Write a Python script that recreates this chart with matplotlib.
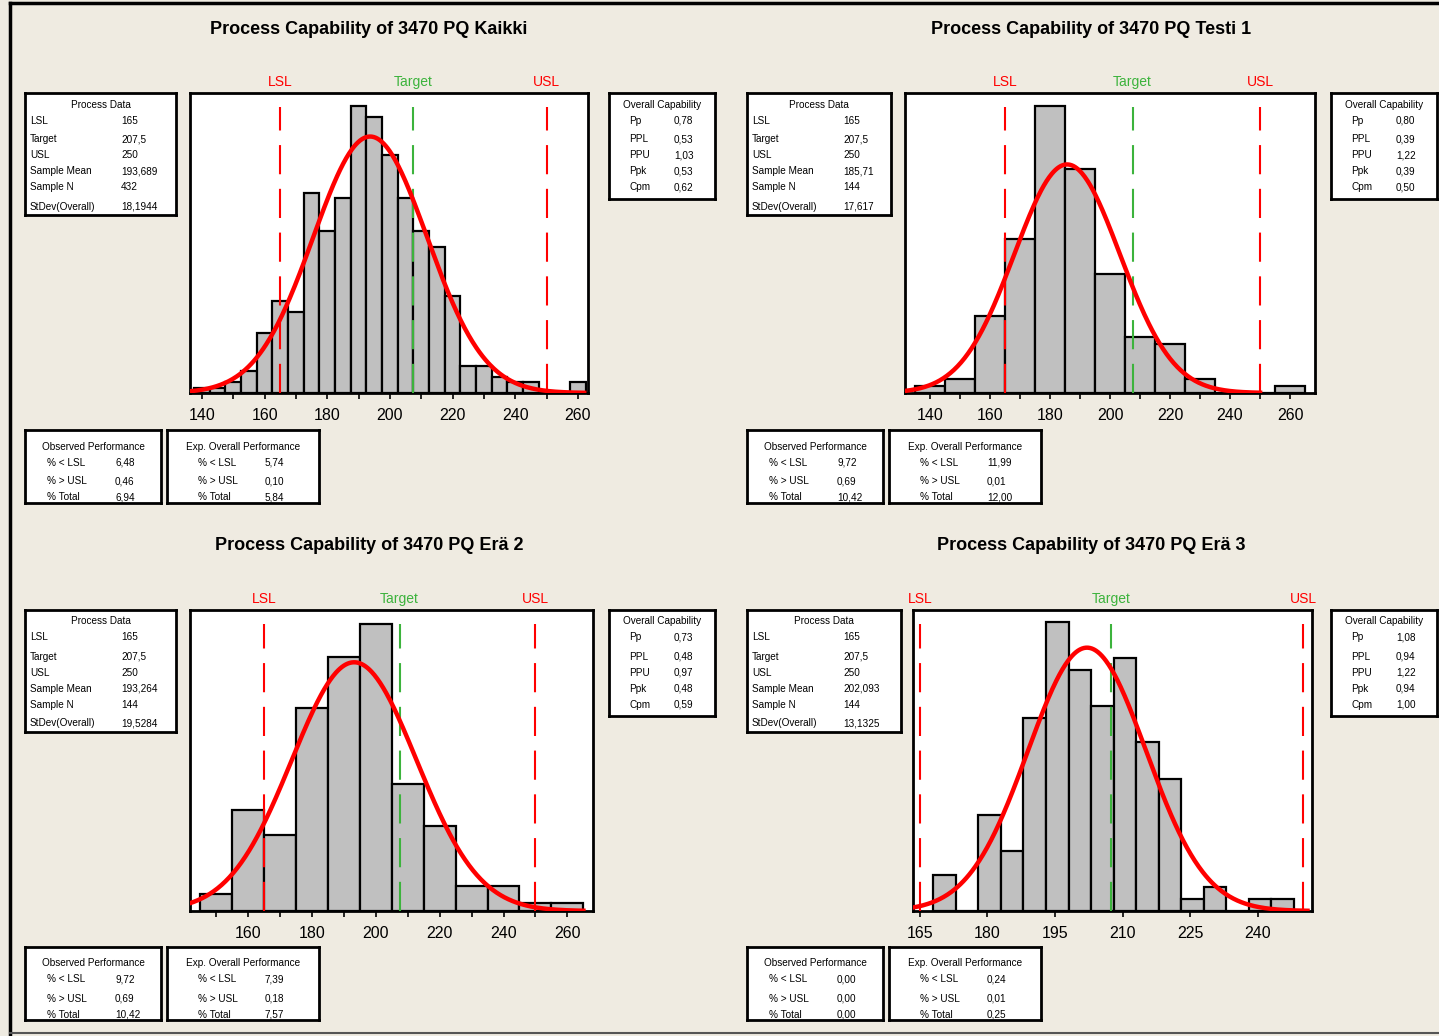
import matplotlib.pyplot as plt
from matplotlib.lines import Line2D
import numpy as np

W, H = 1439, 1036
BG = '#efebe1'
plt.rcParams['font.family'] = ['Liberation Sans', 'DejaVu Sans']

# --- data ---
titles = ['Process Capability of 3470 PQ Kaikki', 'Process Capability of 3470 PQ Testi 1',
          'Process Capability of 3470 PQ Erä 2', 'Process Capability of 3470 PQ Erä 3']
lsl, target, usl = 165, 207.5, 250
means = [193.689, 185.71, 193.264, 202.093]
mean_txt = ['193,689', '185,71', '193,264', '202,093']
sample_n = [432, 144, 144, 144]
stdevs = [18.1944, 17.617, 19.5284, 13.1325]
stdev_txt = ['18,1944', '17,617', '19,5284', '13,1325']

bin_start = [137.5, 135, 145, 168]
bin_width = [5, 10, 10, 5]
counts_kaikki = [1, 1, 2, 4, 11, 17, 15, 37, 30, 36, 53, 51, 44, 36, 30, 27, 18, 5, 5, 3, 2, 2, 0, 0, 2]
counts_testi1 = [1, 2, 11, 22, 41, 32, 17, 8, 7, 2, 0, 0, 1]
counts_era2 = [2, 12, 9, 24, 30, 34, 15, 10, 3, 3, 1, 1]
counts_era3 = [3, 0, 8, 5, 16, 24, 20, 17, 21, 14, 11, 1, 2, 0, 1, 1]
counts = [counts_kaikki, counts_testi1, counts_era2, counts_era3]

major_ticks = [list(range(140, 261, 20)), list(range(140, 261, 20)),
               list(range(160, 261, 20)), list(range(165, 241, 15))]
minor_ticks = [list(range(140, 261, 10)), list(range(140, 261, 10)),
               list(range(150, 261, 10)), []]

cap_names = ['Pp', 'PPL', 'PPU', 'Ppk', 'Cpm']
overall_cap = [['0,78', '0,53', '1,03', '0,53', '0,62'],
               ['0,80', '0,39', '1,22', '0,39', '0,50'],
               ['0,73', '0,48', '0,97', '0,48', '0,59'],
               ['1,08', '0,94', '1,22', '0,94', '1,00']]
perf_names = ['% < LSL', '% > USL', '% Total']
observed = [['6,48', '0,46', '6,94'], ['9,72', '0,69', '10,42'],
            ['9,72', '0,69', '10,42'], ['0,00', '0,00', '0,00']]
expected = [['5,74', '0,10', '5,84'], ['11,99', '0,01', '12,00'],
            ['7,39', '0,18', '7,57'], ['0,24', '0,01', '0,25']]

# --- layout (pixels) ---
hist_box = [(190, 93, 588, 393), (905, 93, 1315, 393), (190, 610, 593, 911), (913, 610, 1312, 911)]
xlims = [(136.2, 263.2), (131.7, 268.3), (141.9, 268.0), (163.5, 252.0)]
ylims = [55.4, 42.8, 35.6, 25.0]
curve_end = [262, 250, 265, 251]
title_pos = [(369, 29), (1091, 29), (369, 546), (1091, 546)]
origin = [(0, 0), (722, 0), (0, 517), (722, 517)]
pd_width = [151, 144, 151, 154]


def px_axes(fig, x0, y0, x1, y1):
    return fig.add_axes([x0 / W, 1 - y1 / H, (x1 - x0) / W, (y1 - y0) / H])


def text_box(fig, x0, y0, x1, y1, title, title_y, rows, row_y, lab_x, val_x):
    ax = px_axes(fig, x0, y0, x1, y1)
    ax.set_xlim(0, x1 - x0)
    ax.set_ylim(y1 - y0, 0)
    ax.set_xticks([])
    ax.set_yticks([])
    for s in ax.spines.values():
        s.set_linewidth(2)
    ax.text((x1 - x0) / 2, title_y + 3.5, title, ha='center', va='baseline', fontsize=7.2)
    for (lab, val), yy in zip(rows, row_y):
        # baseline alignment keeps label and value on one line
        ax.text(lab_x, yy + 3.5, lab, ha='left', va='baseline', fontsize=7.2)
        ax.text(val_x, yy + 3.5, val, ha='left', va='baseline', fontsize=7.2)


fig = plt.figure(figsize=(W / 100, H / 100), dpi=100, facecolor=BG)

for i in range(4):
    ox, oy = origin[i]
    ax = px_axes(fig, *hist_box[i])
    edges = bin_start[i] + bin_width[i] * np.arange(len(counts[i]) + 1)
    ax.bar(edges[:-1], counts[i], width=bin_width[i], align='edge',
           color='#c0c0c0', edgecolor='black', linewidth=1.6, zorder=2)
    xs = np.linspace(xlims[i][0], curve_end[i], 400)
    ys = sample_n[i] * bin_width[i] * np.exp(-0.5 * ((xs - means[i]) / stdevs[i]) ** 2) / (stdevs[i] * np.sqrt(2 * np.pi))
    ax.plot(xs, ys, color='red', linewidth=3.2, zorder=4)
    for xv, col in [(lsl, 'red'), (target, '#3cb33c'), (usl, 'red')]:
        ax.axvline(xv, ymin=0, ymax=0.955, color=col, linewidth=1.5, dashes=(14, 7), zorder=3)
    ax.set_xlim(*xlims[i])
    ax.set_ylim(0, ylims[i])
    ax.set_yticks([])
    ax.set_xticks(major_ticks[i])
    ax.set_xticks(minor_ticks[i], minor=True)
    ax.tick_params(axis='x', which='both', direction='out', length=4, width=1.2, labelsize=11.5, pad=7)
    for s in ax.spines.values():
        s.set_linewidth(2)
    trans = ax.get_xaxis_transform()
    ax.text(lsl, 1.012, 'LSL', color='red', ha='center', va='bottom', fontsize=10, transform=trans)
    ax.text(target, 1.012, 'Target', color='#3cb33c', ha='center', va='bottom', fontsize=10, transform=trans)
    ax.text(usl, 1.012, 'USL', color='red', ha='center', va='bottom', fontsize=10, transform=trans)

    fig.text(title_pos[i][0] / W, 1 - title_pos[i][1] / H, titles[i], ha='center', va='center',
             fontsize=13, fontweight='bold')

    pd_rows = [('LSL', '165'), ('Target', '207,5'), ('USL', '250'), ('Sample Mean', mean_txt[i]),
               ('Sample N', str(sample_n[i])), ('StDev(Overall)', stdev_txt[i])]
    text_box(fig, 25 + ox, 93 + oy, 25 + pd_width[i] + ox, 215 + oy, 'Process Data', 11,
             pd_rows, [27, 46, 62, 78, 94, 113], 5, 96)
    text_box(fig, 609 + ox, 93 + oy, 715 + ox, 199 + oy, 'Overall Capability', 11,
             list(zip(cap_names, overall_cap[i])), [27, 46, 62, 78, 94], 20, 65)
    text_box(fig, 25 + ox, 430 + oy, 161 + ox, 503 + oy, 'Observed Performance', 16,
             list(zip(perf_names, observed[i])), [32, 51, 67], 22, 90)
    text_box(fig, 167 + ox, 430 + oy, 319 + ox, 503 + oy, 'Exp. Overall Performance', 16,
             list(zip(perf_names, expected[i])), [32, 51, 67], 31, 98)

# outer frame of the graph window
fig.add_artist(Line2D([10 / W, 10 / W], [0, 1 - 3 / H], color='black', linewidth=2.5))
fig.add_artist(Line2D([10 / W, 1], [1 - 3 / H, 1 - 3 / H], color='black', linewidth=2.5))
fig.add_artist(Line2D([10 / W, 1], [1 - 1033 / H, 1 - 1033 / H], color='#555555', linewidth=1.5))

fig.savefig('out.png', dpi=100, facecolor=BG)
